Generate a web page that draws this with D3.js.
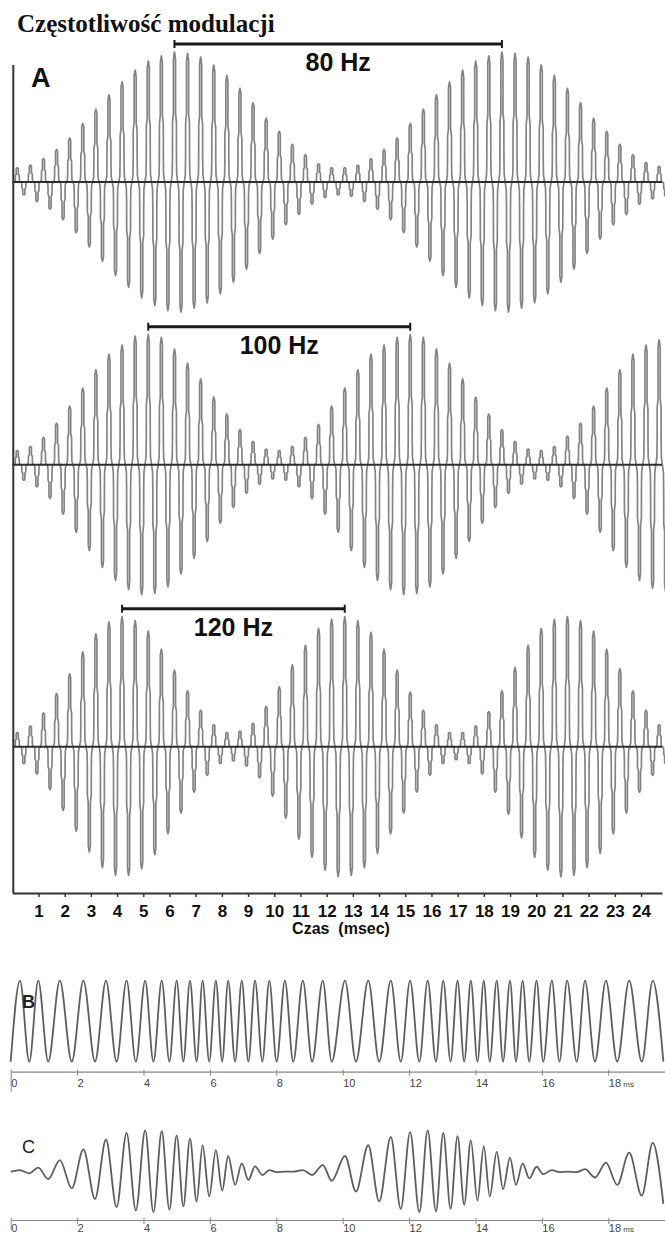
<!DOCTYPE html>
<html>
<head>
<meta charset="utf-8">
<script src="https://cdn.jsdelivr.net/npm/d3@7"></script>
<style>
body { margin: 0; background: #fff; }
svg { display: block; }
</style>
</head>
<body>
<svg id="chart"></svg>
<script>
// panel A: click train, one pulse every 0.5 ms, amplitude read per pulse
var pulseTimes = [0.19,0.69,1.19,1.69,2.19,2.69,3.19,3.69,4.19,4.69,
  5.19,5.69,6.19,6.69,7.19,7.69,8.19,8.69,9.19,9.69,
  10.19,10.69,11.19,11.69,12.19,12.69,13.19,13.69,14.19,14.69,
  15.19,15.69,16.19,16.69,17.19,17.69,18.19,18.69,19.19,19.69,
  20.19,20.69,21.19,21.69,22.19,22.69,23.19,23.69,24.19,24.69];

var pos80 = [0.11,0.13,0.18,0.25,0.34,0.45,0.56,0.67,0.77,0.86,
  0.93,0.97,1.00,0.99,0.96,0.90,0.82,0.72,0.61,0.49,
  0.39,0.29,0.21,0.14,0.11,0.11,0.13,0.18,0.25,0.34,
  0.45,0.56,0.67,0.77,0.86,0.93,0.97,1.00,0.99,0.96,
  0.90,0.82,0.72,0.61,0.49,0.39,0.29,0.21,0.15,0.12];
var neg80 = [0.10,0.15,0.21,0.29,0.39,0.50,0.61,0.72,0.81,0.89,
  0.95,0.99,1.00,0.97,0.93,0.86,0.77,0.67,0.55,0.44,
  0.33,0.25,0.17,0.12,0.10,0.11,0.15,0.21,0.29,0.39,
  0.50,0.61,0.72,0.81,0.89,0.95,0.99,1.00,0.97,0.93,
  0.86,0.77,0.67,0.55,0.44,0.33,0.25,0.17,0.13,0.11];

var pos100 = [0.11,0.14,0.21,0.32,0.45,0.59,0.73,0.85,0.92,0.99,
  1.00,0.98,0.89,0.78,0.66,0.52,0.39,0.27,0.18,0.12,
  0.11,0.14,0.21,0.31,0.45,0.59,0.73,0.85,0.92,0.98,
  1.00,0.98,0.89,0.78,0.66,0.52,0.39,0.27,0.18,0.12,
  0.11,0.14,0.22,0.32,0.45,0.59,0.73,0.85,0.92,0.96];
var neg100 = [0.12,0.17,0.26,0.38,0.52,0.66,0.79,0.89,0.96,1.00,
  0.99,0.94,0.84,0.72,0.59,0.45,0.33,0.22,0.15,0.11,
  0.12,0.17,0.26,0.38,0.52,0.66,0.79,0.89,0.96,1.00,
  0.99,0.94,0.84,0.72,0.59,0.45,0.33,0.22,0.15,0.11,
  0.12,0.17,0.26,0.38,0.52,0.66,0.79,0.89,0.95,0.98];

var pos120 = [0.11,0.16,0.26,0.41,0.56,0.73,0.87,0.96,1.00,0.97,
  0.89,0.75,0.59,0.43,0.28,0.17,0.11,0.12,0.18,0.31,
  0.46,0.63,0.78,0.91,0.98,1.00,0.97,0.88,0.75,0.59,
  0.42,0.28,0.17,0.11,0.11,0.16,0.27,0.43,0.61,0.78,
  0.91,0.98,1.00,0.97,0.89,0.75,0.60,0.43,0.28,0.17];
var neg120 = [0.13,0.21,0.33,0.49,0.65,0.81,0.93,0.99,0.99,0.94,
  0.83,0.67,0.51,0.35,0.22,0.13,0.11,0.15,0.24,0.38,
  0.55,0.71,0.85,0.95,1.00,0.99,0.93,0.82,0.67,0.51,
  0.35,0.22,0.13,0.10,0.13,0.21,0.35,0.52,0.70,0.85,
  0.95,1.00,0.99,0.93,0.82,0.67,0.51,0.35,0.22,0.13];

var barLabels = ["80 Hz", "100 Hz", "120 Hz"];
var barFrom = [6.19, 5.19, 4.19];
var barTo = [18.69, 15.19, 12.69];
var aTicks = [1,2,3,4,5,6,7,8,9,10,11,12,13,14,15,16,17,18,19,20,21,22,23,24];

// panels B and C: times of the wave extrema (trough, peak, trough ...)
var extremaMs = [0.00,0.28,0.56,0.83,1.13,1.48,1.84,2.19,2.54,2.87,
  3.19,3.49,3.77,4.05,4.30,4.55,4.78,5.00,5.20,5.40,
  5.60,5.78,5.98,6.18,6.37,6.55,6.76,6.96,7.16,7.36,
  7.58,7.79,8.01,8.26,8.51,8.80,9.08,9.40,9.67,10.07,
  10.40,10.77,11.10,11.45,11.75,12.03,12.31,12.56,12.81,13.03,
  13.25,13.46,13.66,13.86,14.06,14.25,14.43,14.64,14.83,15.04,
  15.22,15.42,15.62,15.84,16.04,16.30,16.53,16.76,17.05,17.30,
  17.60,17.93,18.27,18.63,19.01,19.34,19.66];
var bAmp = 1.0;
var cAmp = [0.00,0.04,0.04,0.10,0.18,0.28,0.40,0.54,0.66,0.78,
  0.86,0.94,0.94,1.00,0.98,0.98,0.92,0.88,0.84,0.80,
  0.72,0.64,0.60,0.52,0.46,0.38,0.32,0.20,0.20,0.13,
  0.08,0.04,0.01,0.00,0.00,0.04,0.08,0.16,0.22,0.38,
  0.48,0.64,0.72,0.84,0.90,0.96,0.98,1.00,0.96,0.94,
  0.90,0.86,0.80,0.76,0.70,0.62,0.60,0.48,0.42,0.34,
  0.32,0.20,0.16,0.12,0.06,0.04,0.01,0.00,0.01,0.06,
  0.14,0.22,0.32,0.46,0.58,0.70,0.78];
var bcTicks = [0,2,4,6,8,10,12,14,16,18];

var sans = "'Liberation Sans', Arial, sans-serif";

var svg = d3.select("#chart")
  .attr("width", 665)
  .attr("height", 1236);

svg.append("text")
  .text("Częstotliwość modulacji")
  .attr("x", 17)
  .attr("y", 32)
  .attr("font-family", "'Liberation Serif', 'Times New Roman', serif")
  .attr("font-weight", "bold")
  .attr("font-size", "25px")
  .attr("fill", "#111");

// ---------- panel A ----------
var xA = d3.scaleLinear().domain([0, 24.8]).range([12.3, 662]);
var rowBase = [182, 464.7, 746.7];
var rowAmp = 130;
var rows = [[pos80, neg80], [pos100, neg100], [pos120, neg120]];

// shape of one half cycle, [time offset in ms, fraction of amplitude]
var lobe = [[-0.125,0],[-0.085,0.06],[-0.076,0.2],[-0.074,0.46],[-0.04,0.53],[-0.04,0.94],
  [-0.014,0.985],[0,1],[0.014,0.985],[0.04,0.94],[0.04,0.53],[0.074,0.46],[0.076,0.2],[0.085,0.06],[0.125,0]];

function wavePoints(pos, neg) {
  var pts = [];
  pulseTimes.forEach(function(t, i) {
    lobe.forEach(function(p) { pts.push({t: t + p[0], v: p[1] * pos[i]}); });
    lobe.forEach(function(p) { pts.push({t: t + 0.25 + p[0], v: -p[1] * neg[i]}); });
  });
  return pts;
}

rows.forEach(function(r, i) {
  var base = rowBase[i];
  var yA = d3.scaleLinear().domain([-1, 1]).range([base + rowAmp, base - rowAmp]);
  var line = d3.line()
    .x(function(d) { return xA(d.t); })
    .y(function(d) { return yA(d.v); });

  svg.append("path")
    .attr("d", line(wavePoints(r[0], r[1])))
    .attr("fill", "none")
    .attr("stroke", "#848484")
    .attr("stroke-width", 1.7)
    .attr("stroke-linejoin", "round");

  svg.append("line")
    .attr("x1", xA(0)).attr("x2", xA(24.8))
    .attr("y1", base).attr("y2", base)
    .attr("stroke", "#2e2e2e")
    .attr("stroke-width", 2);

  var by = base - 138;
  svg.append("line")
    .attr("x1", xA(barFrom[i])).attr("x2", xA(barTo[i]))
    .attr("y1", by).attr("y2", by)
    .attr("stroke", "#1a1a1a")
    .attr("stroke-width", 3);
  [barFrom[i], barTo[i]].forEach(function(t) {
    svg.append("line")
      .attr("x1", xA(t)).attr("x2", xA(t))
      .attr("y1", by - 4).attr("y2", by + 4)
      .attr("stroke", "#1a1a1a")
      .attr("stroke-width", 2);
  });
  svg.append("text")
    .text(barLabels[i])
    .attr("x", (xA(barFrom[i]) + xA(barTo[i])) / 2)
    .attr("y", by + 27)
    .attr("text-anchor", "middle")
    .attr("font-family", sans)
    .attr("font-weight", "bold")
    .attr("font-size", "25px")
    .attr("fill", "#111");
});

svg.append("text")
  .text("A")
  .attr("x", 31)
  .attr("y", 87)
  .attr("font-family", sans)
  .attr("font-weight", "bold")
  .attr("font-size", "27px")
  .attr("fill", "#111");

svg.append("line")
  .attr("x1", 13.3).attr("x2", 13.3)
  .attr("y1", 65).attr("y2", 893)
  .attr("stroke", "#333")
  .attr("stroke-width", 2);

var xAxisA = d3.axisBottom(xA)
  .tickValues(aTicks)
  .tickSize(4)
  .tickSizeOuter(0);
var gA = svg.append("g")
  .attr("transform", "translate(0,893)")
  .call(xAxisA);
gA.select(".domain").attr("stroke", "#333").attr("stroke-width", 2);
gA.selectAll(".tick line").attr("stroke", "#333").attr("stroke-width", 1.5);
gA.selectAll(".tick text")
  .attr("y", 24)
  .attr("dy", 0)
  .attr("font-family", sans)
  .attr("font-weight", "bold")
  .attr("font-size", "17px")
  .attr("fill", "#111");

svg.append("text")
  .text("Czas  (msec)")
  .attr("x", 341)
  .attr("y", 934)
  .attr("text-anchor", "middle")
  .style("white-space", "pre")
  .attr("font-family", sans)
  .attr("font-weight", "bold")
  .attr("font-size", "16px")
  .attr("fill", "#111");

// ---------- panels B and C ----------
var xB = d3.scaleLinear().domain([0, 19.7]).range([10.7, 664.7]);
var panels = [
  {name: "B", mid: 1021.2, amp: 40.5, axisY: 1071.7, amps: null, labelY: 1008, weight: "bold", zeroTick: 20},
  {name: "C", mid: 1171.7, amp: 41.3, axisY: 1220, amps: cAmp, labelY: 1153, weight: "normal", zeroTick: 10}
];

panels.forEach(function(p) {
  var y = d3.scaleLinear().domain([-1, 1]).range([p.mid + p.amp, p.mid - p.amp]);
  var pts = extremaMs.map(function(t, i) {
    var a = p.amps ? p.amps[i] : bAmp;
    return {t: t, v: (i % 2 === 0 ? -a : a)};
  });
  var line = d3.line()
    .x(function(d) { return xB(d.t); })
    .y(function(d) { return y(d.v); })
    .curve(d3.curveMonotoneX);

  svg.append("path")
    .attr("d", line(pts))
    .attr("fill", "none")
    .attr("stroke", "#5e5e5e")
    .attr("stroke-width", 1.8);

  var axis = d3.axisBottom(xB)
    .tickValues(bcTicks)
    .tickSize(4)
    .tickSizeOuter(0);
  var g = svg.append("g")
    .attr("transform", "translate(0," + p.axisY + ")")
    .call(axis);
  g.select(".domain").attr("stroke", "#888").attr("stroke-width", 1.2);
  g.selectAll(".tick line")
    .attr("stroke", "#888")
    .attr("y1", -2)
    .attr("y2", function(d) { return d === 0 ? p.zeroTick : 4; });
  g.selectAll(".tick text")
    .attr("text-anchor", "start")
    .attr("x", 0)
    .attr("y", p.name === "B" ? 15 : 12)
    .attr("dy", 0)
    .attr("font-family", sans)
    .attr("font-size", "11px")
    .attr("fill", "#444")
    .each(function(d) {
      if (d === 18) {
        d3.select(this).append("tspan").text(" ms").attr("font-size", "8px");
      }
    });

  svg.append("text")
    .text(p.name)
    .attr("x", 22)
    .attr("y", p.labelY)
    .attr("font-family", sans)
    .attr("font-weight", p.weight)
    .attr("font-size", "18px")
    .attr("fill", "#222");
});
</script>
</body>
</html>
